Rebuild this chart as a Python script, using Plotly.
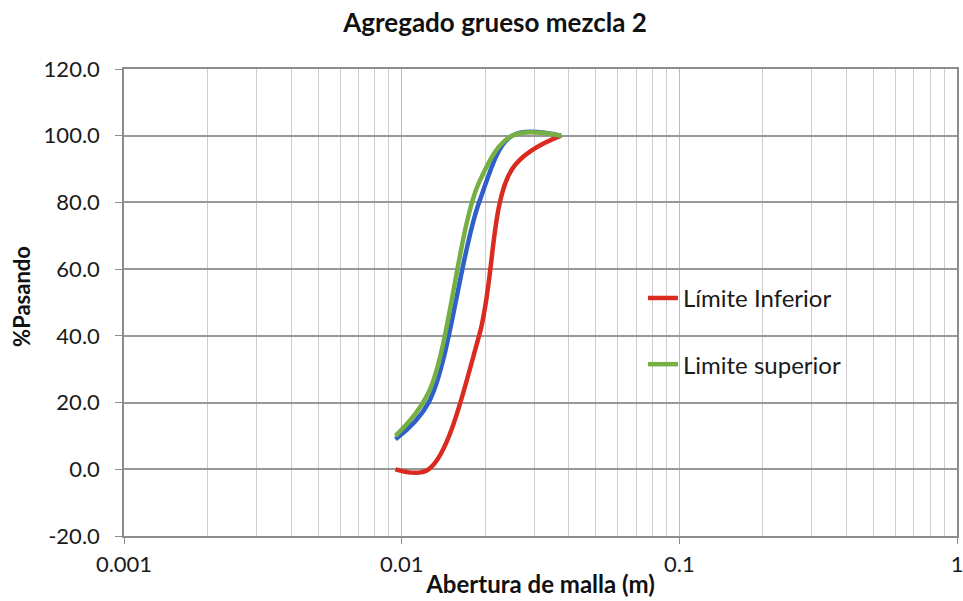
import plotly.graph_objects as go

# Sieve openings (m)
abertura = [0.0095, 0.0125, 0.019, 0.025, 0.0375]
# % passing
limite_inferior = [0, 0, 40, 90, 100]
limite_superior = [10, 23, 86, 100, 100]
mezcla = [9, 20, 80, 100, 100]

x_tick_vals = [0.001, 0.01, 0.1, 1]
x_tick_text = ["0.001", "0.01", "0.1", "1"]
y_tick_vals = [-20, 0, 20, 40, 60, 80, 100, 120]
y_tick_text = ["-20.0", "0.0", "20.0", "40.0", "60.0", "80.0", "100.0", "120.0"]

FONT = "Lato"
TXT = "#1a1a1a"
SMOOTH = 1.0
AXIS = "#8C8C8C"

fig = go.Figure()
fig.add_trace(go.Scatter(x=abertura, y=limite_inferior, mode="lines", name="Límite Inferior",
                         line=dict(color="#D92B20", width=4.5, shape="spline", smoothing=SMOOTH),
                         legendgroup="a"))
fig.add_trace(go.Scatter(x=abertura, y=mezcla, mode="lines", name="Mezcla",
                         line=dict(color="#2F5FC8", width=4.5, shape="spline", smoothing=SMOOTH),
                         showlegend=False))
fig.add_trace(go.Scatter(x=abertura, y=limite_superior, mode="lines", name="Limite superior",
                         line=dict(color="#76B043", width=4.5, shape="spline", smoothing=SMOOTH),
                         legendgroup="b"))

fig.update_layout(
    width=963, height=601,
    margin=dict(l=124, r=6, t=69, b=65),
    paper_bgcolor="white", plot_bgcolor="white",
    font=dict(family=FONT, size=20, color=TXT),
    title=dict(text="<b>Agregado grueso mezcla 2</b>", x=0.514, xanchor="center",
               y=0.962, yanchor="middle", font=dict(family=FONT, size=26, color="#111")),
    legend=dict(x=0.623, y=0.557, xanchor="left", yanchor="top", bgcolor="rgba(0,0,0,0)",
                tracegroupgap=32, font=dict(family=FONT, size=24, color=TXT)),
    showlegend=True,
    annotations=[dict(text="<b>%Pasando</b>", textangle=-90, showarrow=False,
                      xref="paper", yref="paper", x=0, xshift=-102, y=0.512,
                      xanchor="center", yanchor="middle",
                      font=dict(family=FONT, size=22, color="#111"))],
)

fig.update_xaxes(
    type="log", range=[-3, 0], automargin=False,
    tickvals=x_tick_vals, ticktext=x_tick_text, ticklabeloverflow="allow",
    showgrid=True, gridcolor="#BBBBBB", gridwidth=1,
    minor=dict(dtick="D1", showgrid=True, gridcolor="#CCCCCC", gridwidth=1),
    showline=True, linecolor=AXIS, linewidth=1.5, mirror=True,
    ticks="outside", ticklen=6, tickcolor=AXIS,
    ticklabelstandoff=2,
    tickfont=dict(family=FONT, size=22, color=TXT),
    title=dict(text="<b>Abertura de malla (m)</b>", standoff=0,
               font=dict(family=FONT, size=24, color="#111")),
    zeroline=False,
)
fig.update_yaxes(
    range=[-20, 120], automargin=False,
    tickvals=y_tick_vals, ticktext=y_tick_text,
    showgrid=True, gridcolor="#999999", gridwidth=1.5,
    showline=True, linecolor=AXIS, linewidth=1.5, mirror=True,
    ticks="outside", ticklen=7, tickcolor=AXIS,
    ticklabelstandoff=11,
    tickfont=dict(family=FONT, size=22, color=TXT),
    zeroline=False,
)

fig.write_html("out.html")
